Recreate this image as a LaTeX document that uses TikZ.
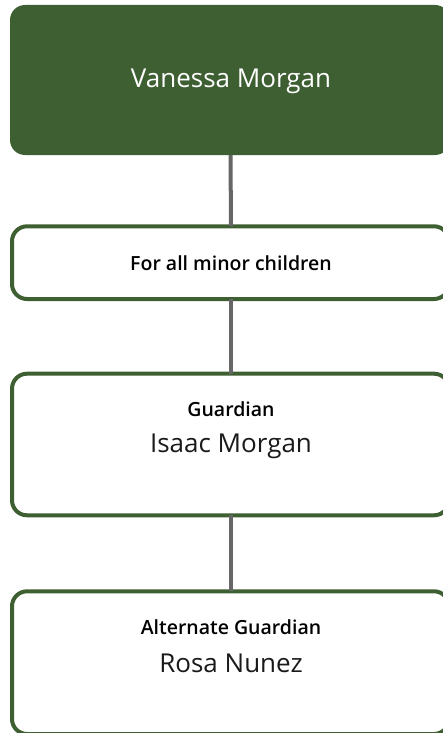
\documentclass[tikz,border=0pt]{standalone}
\usepackage{fontspec}
\setmainfont{Open Sans}
\newfontfamily\osemi{Open Sans Semibold}
\definecolor{leaf}{HTML}{3E5F32}
\definecolor{linkgray}{HTML}{666666}
\definecolor{ink}{HTML}{1A1A1A}
\begin{document}
\begin{tikzpicture}[x=1pt,y=-1pt,
  headbox/.style={rectangle,rounded corners=15pt,fill=leaf,draw=none,minimum width=440pt,minimum height=150pt,inner sep=0pt},
  itembox/.style={rectangle,rounded corners=15pt,fill=white,draw=leaf,line width=4pt,minimum width=437pt,inner sep=0pt},
  link/.style={draw=linkgray,line width=4pt},
  small/.style={font=\osemi\fontsize{19.5}{24}\selectfont,text=black,anchor=base,inner sep=0pt},
  big/.style={font=\fontsize{26}{31}\selectfont,text=ink,anchor=base,inner sep=0pt}]
\useasboundingbox (0,0) rectangle (443,733);
\clip (0,0) rectangle (443,733);
\node[headbox] (top) at (230,80) {};
\node[itembox,minimum height=72.7pt] (scope) at (230.5,262.65) {};
\node[itembox,minimum height=141.6pt] (guard) at (230.5,444.5) {};
\node[itembox,minimum height=142.7pt] (alt) at (230.5,662.65) {};
\draw[link] ([xshift=0.5pt]top.south) -- ([xshift=0.5pt,yshift=-2pt]scope.north);
\draw[link] ([xshift=0.5pt,yshift=2pt]scope.south) -- ([xshift=0.5pt,yshift=-2pt]guard.north);
\draw[link] ([xshift=0.5pt,yshift=2pt]guard.south) -- ([xshift=0.5pt,yshift=-2pt]alt.north);
\node[big,text=white] (vm) at (231,88) {Vanessa Morgan};
\node[small] (fa) at (231,270) {For all minor children};
\node[small] (gl) at (231,416.5) {Guardian};
\node[big] (im) at (231,452) {Isaac Morgan};
\node[small] (al) at (231,634.5) {Alternate Guardian};
\node[big] (rn) at (231,672) {Rosa Nunez};
\end{tikzpicture}
\end{document}
